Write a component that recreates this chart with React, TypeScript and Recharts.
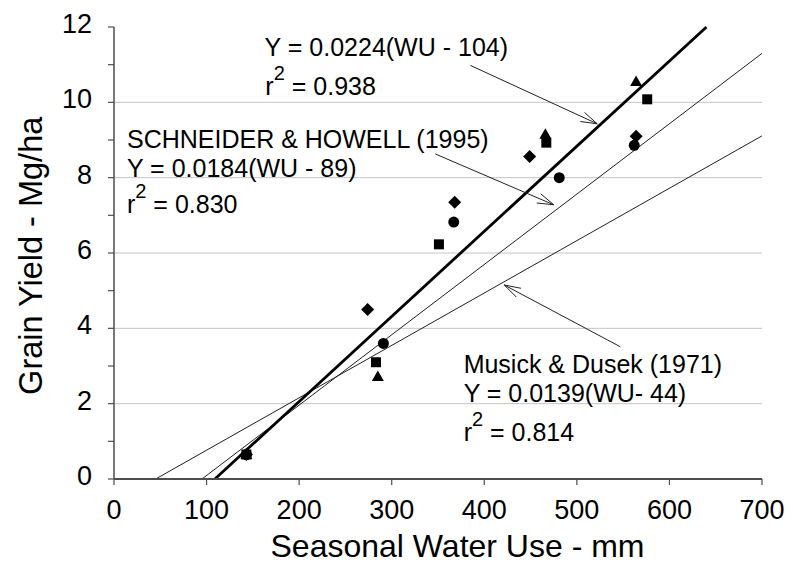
import React from 'react';
import {
  ComposedChart,
  XAxis,
  YAxis,
  Scatter,
  ReferenceLine,
  ReferenceDot,
  CartesianGrid,
} from 'recharts';

const FONT = "'Liberation Sans', Arial, Helvetica, sans-serif";

// ---- axes ----
const xTicks = [0, 100, 200, 300, 400, 500, 600, 700];
const yTicks = [0, 1, 2, 3, 4, 5, 6, 7, 8, 9, 10, 11, 12];
const gridValues = [2, 4, 6, 8, 10];

// ---- observed points (Seasonal Water Use mm, Grain Yield Mg/ha) ----
const circleX = [143, 291, 367, 481, 562];
const circleY = [0.65, 3.6, 6.82, 8.0, 8.86];

const squareX = [143, 283, 351, 467, 576];
const squareY = [0.65, 3.1, 6.23, 8.93, 10.08];

const diamondX = [143, 274, 368, 449, 564];
const diamondY = [0.65, 4.5, 7.35, 8.56, 9.1];

const triangleX = [143, 285, 466, 564];
const triangleY = [0.65, 2.72, 9.15, 10.55];

// ---- regression lines (end points) ----
const thisStudyX = [109, 640];
const thisStudyY = [0, 12];
const schneiderX = [95, 700];
const schneiderY = [0, 11.3];
const musickX = [45, 700];
const musickY = [0, 9.11];

// ---- annotation arrows (from -> to, data units) ----
const arrowFromX = [385, 347, 547];
const arrowFromY = [10.98, 8.63, 3.51];
const arrowToX = [522, 475, 421.6];
const arrowToY = [9.43, 7.28, 5.15];

// ---- annotation texts ----
const noteText = [
  'Y = 0.0224(WU - 104)',
  '0.938',
  'SCHNEIDER & HOWELL (1995)',
  'Y = 0.0184(WU - 89)',
  '0.830',
  'Musick & Dusek (1971)',
  'Y = 0.0139(WU- 44)',
  '0.814',
];
const noteIsR2 = [false, true, false, false, true, false, false, true];
const noteX = [162.7, 163.5, 14, 14, 14, 377.7, 377.7, 377.7];
const noteY = [11.22, 10.2, 8.78, 8.03, 7.06, 2.81, 2.05, 1.02];

const zip = (xs: number[], ys: number[]) => xs.map((x, i) => ({ x, y: ys[i] }));

const circleData = zip(circleX, circleY);
const squareData = zip(squareX, squareY);
const diamondData = zip(diamondX, diamondY);
const triangleData = zip(triangleX, triangleY);

const CircleMark = (p: any) => <circle cx={p.cx} cy={p.cy} r={5.5} fill="#000" />;
const SquareMark = (p: any) => (
  <rect x={p.cx - 5} y={p.cy - 5} width={10} height={10} fill="#000" />
);
const DiamondMark = (p: any) => (
  <polygon
    points={`${p.cx},${p.cy - 6.5} ${p.cx + 6.5},${p.cy} ${p.cx},${p.cy + 6.5} ${p.cx - 6.5},${p.cy}`}
    fill="#000"
  />
);
const TriangleMark = (p: any) => (
  <polygon
    points={`${p.cx},${p.cy - 6} ${p.cx + 6},${p.cy + 4.5} ${p.cx - 6},${p.cy + 4.5}`}
    fill="#000"
  />
);

const ArrowShape = (p: any) => {
  const { x1, y1, x2, y2 } = p;
  const ang = Math.atan2(y2 - y1, x2 - x1);
  const L = 17;
  const a = (17 * Math.PI) / 180;
  const w1x = x2 - L * Math.cos(ang - a);
  const w1y = y2 - L * Math.sin(ang - a);
  const w2x = x2 - L * Math.cos(ang + a);
  const w2y = y2 - L * Math.sin(ang + a);
  return (
    <g>
      <line x1={x1} y1={y1} x2={x2} y2={y2} stroke="#222" strokeWidth={1} />
      <polyline
        points={`${w1x},${w1y} ${x2},${y2} ${w2x},${w2y}`}
        fill="none"
        stroke="#222"
        strokeWidth={1}
      />
    </g>
  );
};

const YTick = (props: any) => {
  const { x, y, payload } = props;
  if (payload.value % 2 !== 0) return <g />;
  return (
    <text x={x} y={y} dy={6} textAnchor="end" fontSize={27} fontFamily={FONT} fill="#000">
      {payload.value}
    </text>
  );
};

const XTick = (props: any) => {
  const { x, y, payload } = props;
  return (
    <text x={x} y={y} dy={21} textAnchor="middle" fontSize={27} fontFamily={FONT} fill="#000">
      {payload.value}
    </text>
  );
};

const XTitle = (props: any) => {
  const vb = props.viewBox || { x: 106, y: 471, width: 648, height: 84 };
  return (
    <text
      x={vb.x + vb.width / 2 + 19.5}
      y={vb.y + 77.7}
      textAnchor="middle"
      fontSize={32}
      fontFamily={FONT}
      fill="#000"
    >
      Seasonal Water Use - mm
    </text>
  );
};

const YTitle = (props: any) => {
  const vb = props.viewBox || { x: 0, y: 19, width: 106, height: 452 };
  const cx = vb.x + 33.7;
  const cy = vb.y + vb.height / 2 + 2.8;
  return (
    <text
      transform={`translate(${cx},${cy}) rotate(-90)`}
      textAnchor="middle"
      fontSize={32.5}
      fontFamily={FONT}
      fill="#000"
    >
      Grain Yield - Mg/ha
    </text>
  );
};

const noteShape = (i: number) => (p: any) => {
  const { cx, cy } = p;
  if (noteIsR2[i]) {
    return (
      <text x={cx} y={cy} fontSize={25} fontFamily={FONT} fill="#000">
        <tspan>r</tspan>
        <tspan dy={-15} fontSize={20}>
          2
        </tspan>
        <tspan dy={15}>{` = ${noteText[i]}`}</tspan>
      </text>
    );
  }
  return (
    <text x={cx} y={cy} fontSize={25} fontFamily={FONT} fill="#000">
      {noteText[i]}
    </text>
  );
};

const AXIS = '#4d4d4d';

export default function App() {
  return (
    <ComposedChart
      width={777}
      height={555}
      margin={{ top: 19, right: 23, left: 0, bottom: 0 }}
      style={{ fontFamily: FONT }}
    >
      <CartesianGrid
        vertical={false}
        horizontalValues={gridValues}
        stroke="#c4c4c4"
        strokeWidth={1}
      />
      <XAxis
        type="number"
        dataKey="x"
        domain={[0, 700]}
        ticks={xTicks}
        interval={0}
        height={84}
        tickSize={6}
        tickMargin={13}
        stroke={AXIS}
        axisLine={{ stroke: AXIS, strokeWidth: 1.8 }}
        tickLine={{ stroke: AXIS, strokeWidth: 1.2 }}
        tick={<XTick />}
        label={<XTitle />}
        allowDataOverflow
      />
      <XAxis
        xAxisId="top"
        orientation="top"
        type="number"
        domain={[0, 700]}
        height={0}
        tick={false}
        tickLine={false}
        axisLine={{ stroke: '#333', strokeWidth: 1.5 }}
        allowDataOverflow
      />
      <YAxis
        type="number"
        dataKey="y"
        domain={[0, 12]}
        ticks={yTicks}
        interval={0}
        width={106}
        tickSize={6}
        tickMargin={16}
        axisLine={{ stroke: AXIS, strokeWidth: 1.5 }}
        tickLine={{ stroke: AXIS, strokeWidth: 1.2 }}
        tick={<YTick />}
        label={<YTitle />}
        allowDataOverflow
      />
      <YAxis
        yAxisId="right"
        orientation="right"
        type="number"
        domain={[0, 12]}
        ticks={yTicks}
        interval={0}
        width={0}
        mirror
        tickSize={5}
        tick={false}
        axisLine={{ stroke: AXIS, strokeWidth: 1.5 }}
        tickLine={{ stroke: AXIS, strokeWidth: 1.2 }}
        allowDataOverflow
      />

      <ReferenceLine
        segment={zip(musickX, musickY)}
        stroke="#222"
        strokeWidth={1}
        ifOverflow="visible"
      />
      <ReferenceLine
        segment={zip(schneiderX, schneiderY)}
        stroke="#222"
        strokeWidth={1}
        ifOverflow="visible"
      />
      <ReferenceLine
        segment={zip(thisStudyX, thisStudyY)}
        stroke="#000"
        strokeWidth={2.8}
        ifOverflow="visible"
      />

      {arrowFromX.map((fx, i) => (
        <ReferenceLine
          key={`arrow-${i}`}
          segment={[
            { x: fx, y: arrowFromY[i] },
            { x: arrowToX[i], y: arrowToY[i] },
          ]}
          ifOverflow="visible"
          shape={ArrowShape}
        />
      ))}

      <Scatter data={circleData} shape={CircleMark} isAnimationActive={false} />
      <Scatter data={squareData} shape={SquareMark} isAnimationActive={false} />
      <Scatter data={diamondData} shape={DiamondMark} isAnimationActive={false} />
      <Scatter data={triangleData} shape={TriangleMark} isAnimationActive={false} />

      {noteX.map((nx, i) => (
        <ReferenceDot
          key={`note-${i}`}
          x={nx}
          y={noteY[i]}
          r={0}
          ifOverflow="visible"
          shape={noteShape(i)}
        />
      ))}
    </ComposedChart>
  );
}
